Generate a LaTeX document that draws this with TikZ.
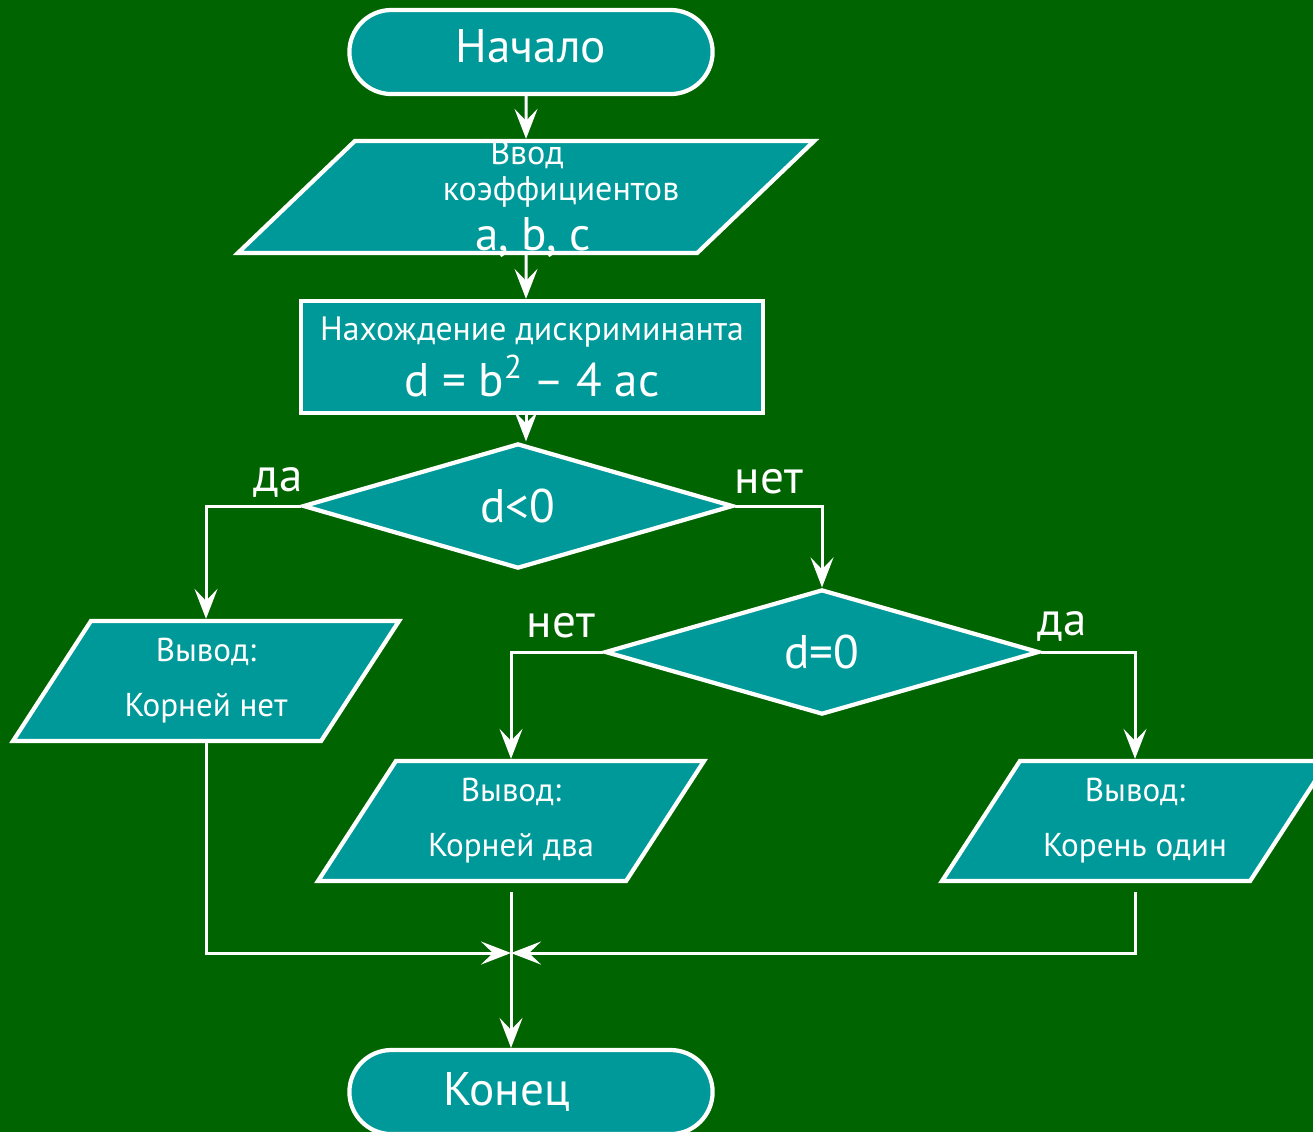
\documentclass[tikz,border=0pt]{standalone}
\usepackage{fontspec}
\setmainfont{PT Sans}
\usepackage{tikz}
\usetikzlibrary{shapes.geometric,arrows.meta}
\definecolor{bggreen}{RGB}{0,100,0}
\definecolor{boxteal}{RGB}{0,153,153}
\newcommand{\iobox}[3]{\parbox[c][#2][c]{#1}{\centering #3}}
\tikzset{
  block/.style={draw=white, line width=1.2pt, fill=boxteal, text=white, inner sep=0pt, align=center},
  term/.style={block, rectangle, rounded corners=0.42cm, minimum width=3.63cm, minimum height=0.84cm},
  proc/.style={block, rectangle, minimum width=4.61cm, minimum height=1.12cm},
  cond/.style={block, diamond, minimum width=4.3cm, minimum height=1.25cm},
  io/.style={block, trapezium, trapezium left angle=57, trapezium right angle=123, trapezium stretches body=true},
  flow/.style={draw=white, line width=0.85pt},
  tip/.style={-{Stealth[length=0.3cm,width=0.23cm,inset=0.12cm]}},
  txtbig/.style={text=white, font=\fontsize{13.4}{16}\selectfont},
  txtmid/.style={text=white, font=\fontsize{9.7}{13}\selectfont},
  txtsmall/.style={text=white, font=\fontsize{9.4}{15.6}\selectfont},
}
\begin{document}
\begin{tikzpicture}[x=0.01cm, y=-0.01cm]
				\fill[bggreen] (0,0) rectangle (1313,1132);
				\useasboundingbox (0,0) rectangle (1313,1132);
				%\draw [help lines] (0,0) grid (1313,1132);
				\node [term, txtbig] (start) at (531,52) {\raisebox{3.5pt}{Начало}};
				\node [io, trapezium left angle=43.75, trapezium right angle=136.25] (input) at (526,197) {\iobox{3.42cm}{1.12cm}{\mbox{}}};
				\node [txtmid] (inA) at (527,155) {Ввод};
				\node [txtmid] (inB) at (561,192) {коэффициентов};
				\node [txtbig] (inC) at (533,237) {a, b, c};
				\node [proc, font=\fontsize{9.6}{16}\selectfont] (calc) at (532,357) {Нахождение дискриминанта\\{\fontsize{13.4}{16}\selectfont d = b\textsuperscript{2}\kern-1pt{} – 4 ac}};
				\node [cond, txtbig] (d1) at (518,506) {d<0};
				\node [cond, minimum width=4.34cm, txtbig] (d2) at (822,652) {d=0};
				\node [io, txtsmall] (out1) at (206,681) {\iobox{2.3cm}{1.2cm}{Вывод:\\Корней нет}};
				\node [io, txtsmall] (out2) at (511,821) {\iobox{2.3cm}{1.2cm}{Вывод:\\Корней два}};
				\node [io, txtsmall] (out3) at (1135,821) {\iobox{2.3cm}{1.2cm}{Вывод:\\Корень один}};
				\node [term, txtbig] (finish) at (531,1092) {Конец\hspace*{0.48cm}};
				\node [txtbig] (yes1) at (278,482) {да};
				\node [txtbig] (no1) at (769,482) {нет};
				\node [txtbig] (no2) at (561,626) {нет};
				\node [txtbig] (yes2) at (1062,626) {да};
				\coordinate (join) at (511,953);
				\draw [flow, tip] (start.south -| input) -- (input.north);
				\draw [flow, tip] (input.south) -- (calc.north -| input);
				\draw [flow, tip] (calc.south -| input) -- (d1.north -| input);
				\draw [flow, tip] (d1.west) -| (out1.north);
				\draw [flow, tip] (d1.east) -| (d2.north);
				\draw [flow, tip] (d2.west) -| (out2.north);
				\draw [flow, tip] (d2.east) -| (out3.north);
				\draw [flow, tip] (out1.south) |- (join);
				\draw [flow, tip] ([yshift=-0.09cm]out3.south) |- (join);
				\draw [flow, tip] ([yshift=-0.09cm]out2.south) -- (out2.south |- finish.north);
\end{tikzpicture}
\end{document}
